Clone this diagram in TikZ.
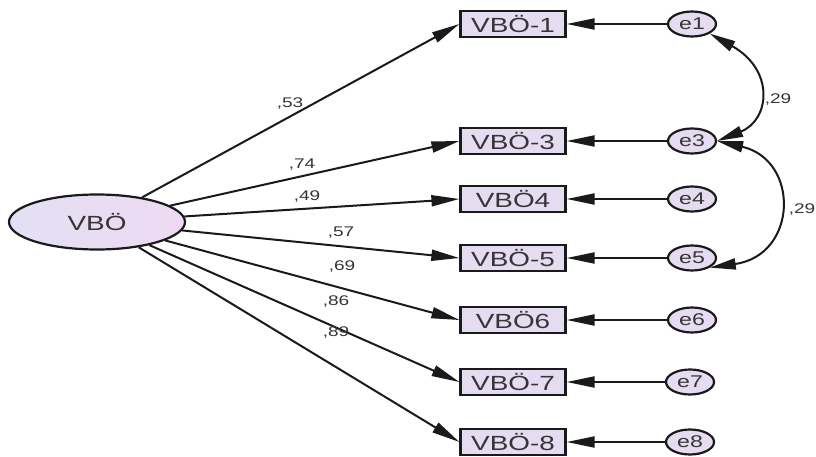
\documentclass[tikz,border=0pt]{standalone}
\usepackage{fontspec}
\newfontfamily\labfont[FakeStretch=1.36]{Liberation Sans}
\usetikzlibrary{arrows.meta,shapes.geometric}
\definecolor{txt}{HTML}{353535}
\definecolor{ln}{HTML}{1A1A1A}
\definecolor{boxfill}{HTML}{E6DCF2}
\definecolor{latl}{HTML}{E2E0F4}
\definecolor{latr}{HTML}{EEDAF2}
\tikzset{
  x=1pt,y=-1pt,
  every node/.style={text=txt},
  obs/.style={draw=ln,line width=2.2pt,fill=boxfill,minimum width=105pt,minimum height=26pt,inner sep=0pt,font=\labfont\fontsize{20.5}{22}\selectfont},
  err/.style={draw=ln,line width=2.2pt,fill=boxfill,ellipse,minimum width=48pt,minimum height=25pt,inner sep=0pt,font=\labfont\fontsize{17}{18}\selectfont},
  lat/.style={draw=ln,line width=2.2pt,ellipse,left color=latl,right color=latr,minimum width=176pt,minimum height=55pt,inner sep=0pt,font=\labfont\fontsize{20.5}{22}\selectfont},
  path/.style={draw=ln,line width=2pt,-{Triangle[length=28pt,width=11pt]}},
  cov/.style={draw=ln,line width=2pt,{Triangle[length=26pt,width=11pt]}-{Triangle[length=26pt,width=11pt]}},
  wt/.style={font=\labfont\fontsize{14}{15}\selectfont,inner sep=0pt}
}
\begin{document}
\begin{tikzpicture}
\useasboundingbox (0,0) rectangle (816,457);
\node[lat] (v) at (97,222) {VBÖ};
\node[obs] (b1) at (513,24) {VBÖ-1};
\node[obs] (b3) at (513,141) {VBÖ-3};
\node[obs] (b4) at (513,199) {VBÖ4};
\node[obs] (b5) at (513,258) {VBÖ-5};
\node[obs] (b6) at (513,320) {VBÖ6};
\node[obs] (b7) at (513,382) {VBÖ-7};
\node[obs] (b8) at (513,442) {VBÖ-8};
\node[err] (e1) at (692,24) {e1};
\node[err] (e3) at (692,141) {e3};
\node[err] (e4) at (692,199) {e4};
\node[err] (e5) at (692,258) {e5};
\node[err] (e6) at (692,320) {e6};
\node[err] (e7) at (690,382) {e7};
\node[err] (e8) at (690,442) {e8};
\foreach \b in {1,3,4,5,6,7,8}{
  \draw[path] (v) -- (b\b.west);
  \draw[path] (e\b) -- (b\b.east);
}
\node[wt] (w1) at (290,104) {,53};
\node[wt] (w3) at (302,165) {,74};
\node[wt] (w4) at (307,197) {,49};
\node[wt] (w5) at (341,233) {,57};
\node[wt] (w6) at (342,267) {,69};
\node[wt] (w7) at (336,302) {,86};
\node[wt] (w8) at (336,333) {,89};
\draw[cov] (e1.south east) .. controls (775,70) and (770,120) .. (e3.east);
\draw[cov] (e3.east) .. controls (800,160) and (798,255) .. (e5.south east);
\node[wt] (c1) at (778,100) {,29};
\node[wt] (c2) at (802,210) {,29};
\end{tikzpicture}
\end{document}
